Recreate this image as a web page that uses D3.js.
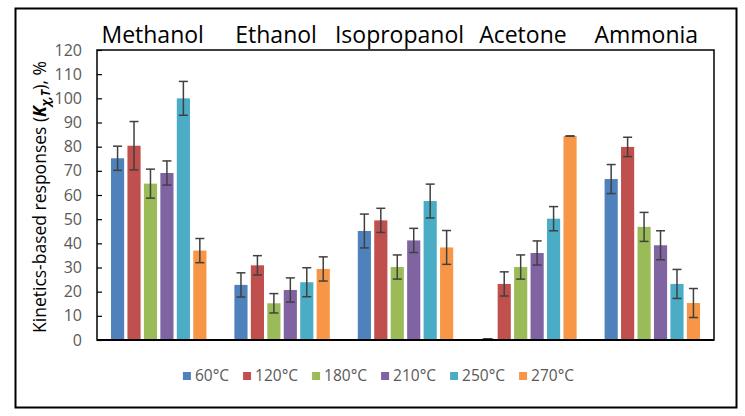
<!DOCTYPE html>
<html><head><meta charset="utf-8">
<script src="https://cdn.jsdelivr.net/npm/d3@7"></script>
<style>body{margin:0;background:#fff}svg{display:block}text{font-family:"Open Sans",sans-serif}</style>
</head><body><svg id="c" width="745" height="416"></svg>
<script>
const categories = ["Methanol","Ethanol","Isopropanol","Acetone","Ammonia"];
const series = ["60°C","120°C","180°C","210°C","250°C","270°C"];
const colors = ["#4F81BD","#C0504D","#9BBB59","#8064A2","#4BACC6","#F79646"];
// values[series][category]
const v60  = [75.2, 22.8, 45.1, 0.5, 66.6];
const v120 = [80.4, 30.9, 49.5, 23.2, 79.9];
const v180 = [64.7, 15.2, 30.2, 30.2, 46.8];
const v210 = [69.1, 20.7, 41.2, 36.0, 39.2];
const v250 = [100.0, 23.9, 57.5, 50.2, 23.2];
const v270 = [37.0, 29.4, 38.3, 84.4, 15.3];
const e60  = [5, 5, 7, 0, 6];
const e120 = [10, 4, 5, 5, 4];
const e180 = [6, 4, 5, 5, 6];
const e210 = [5, 5, 5, 5, 6];
const e250 = [7, 6, 7, 5, 6];
const e270 = [5, 5, 7, 0, 6];
const yTicks = [0,10,20,30,40,50,60,70,80,90,100,110,120];

const values = [v60,v120,v180,v210,v250,v270];
const errors = [e60,e120,e180,e210,e250,e270];

const svg = d3.select("#c");
const L = 97, R = 714, T = 50, B = 340;

svg.append("rect").attr("x",15.5).attr("y",8.5).attr("width",721).attr("height",399)
  .attr("fill","none").attr("stroke","#000").attr("stroke-width",2);

const x0 = d3.scaleBand().domain(categories).range([L,R]).paddingInner(0.2).paddingOuter(0.1);
const x1 = d3.scaleBand().domain(series).range([0,x0.bandwidth()]).paddingInner(0.2).paddingOuter(0.1);
const y = d3.scaleLinear().domain([0,120]).range([B,T]);

// plot box
svg.append("rect").attr("x",L).attr("y",T).attr("width",R-L).attr("height",B-T)
  .attr("fill","none").attr("stroke","#000").attr("stroke-width",1.5);

// y axis
const yAxis = svg.append("g").attr("transform",`translate(${L},0)`)
  .call(d3.axisRight(y).tickValues(yTicks).tickSize(5).tickFormat(""));
yAxis.select(".domain").remove();
yAxis.selectAll("line").attr("stroke","#000").attr("stroke-width",1.2);
svg.append("g").selectAll("text").data(yTicks).join("text")
  .attr("x",82).attr("y",d=>y(d)).attr("dy","0.35em").attr("text-anchor","end")
  .attr("font-size",16).attr("fill","#595959").text(d=>d);

// bars
const data = [];
series.forEach((s,si)=>categories.forEach((c,ci)=>data.push({s,c,si,v:values[si][ci],e:errors[si][ci]})));
const g = svg.append("g");
g.selectAll("rect").data(data).join("rect")
  .attr("x",d=>x0(d.c)+x1(d.s)).attr("width",x1.bandwidth())
  .attr("y",d=>y(d.v)).attr("height",d=>B-y(d.v)).attr("fill",d=>colors[d.si]);

// error bars
const eb = svg.append("g").attr("stroke","#404040").attr("stroke-width",1.5);
data.forEach(d=>{
  const cx = x0(d.c)+x1(d.s)+x1.bandwidth()/2;
  const hi = y(d.v+d.e), lo = y(d.v-d.e);
  eb.append("line").attr("x1",cx).attr("x2",cx).attr("y1",hi).attr("y2",lo);
  eb.append("line").attr("x1",cx-4.5).attr("x2",cx+4.5).attr("y1",hi).attr("y2",hi);
  eb.append("line").attr("x1",cx-4.5).attr("x2",cx+4.5).attr("y1",lo).attr("y2",lo);
});

// bottom axis line
svg.append("line").attr("x1",L).attr("x2",R).attr("y1",B).attr("y2",B).attr("stroke","#000").attr("stroke-width",2);

// category labels on top
svg.append("g").selectAll("text").data(categories).join("text")
  .attr("x",d=>x0(d)+x0.bandwidth()/2-6).attr("y",43).attr("text-anchor","middle")
  .attr("font-size",23).attr("fill","#000").text(d=>d);

// y label
const yl = svg.append("text").attr("transform","translate(46,197) rotate(-90)")
  .attr("text-anchor","middle").attr("font-size",17.5).attr("fill","#000");
yl.append("tspan").text("Kinetics-based responses (");
yl.append("tspan").attr("font-weight","bold").attr("font-style","italic").text("K");
yl.append("tspan").attr("font-weight","bold").attr("font-style","italic").attr("font-size",12).attr("dy",4).text("χ,T");
yl.append("tspan").attr("dy",-4).text("), %");

// legend
const lg = svg.append("g");
let lx = 0;
series.forEach((s,i)=>{
  const it = lg.append("g");
  it.append("rect").attr("x",0).attr("y",-4).attr("width",8).attr("height",8).attr("fill",colors[i]);
  const t = it.append("text").attr("x",12).attr("y",0).attr("dy","0.35em").attr("font-size",15.5).attr("fill","#595959").text(s);
  it.attr("transform",`translate(${lx},0)`);
  lx += 12 + t.node().getComputedTextLength() + 14;
});
const lw = lx - 14;
lg.attr("transform",`translate(${378.5 - lw/2},376)`);
</script></body></html>
